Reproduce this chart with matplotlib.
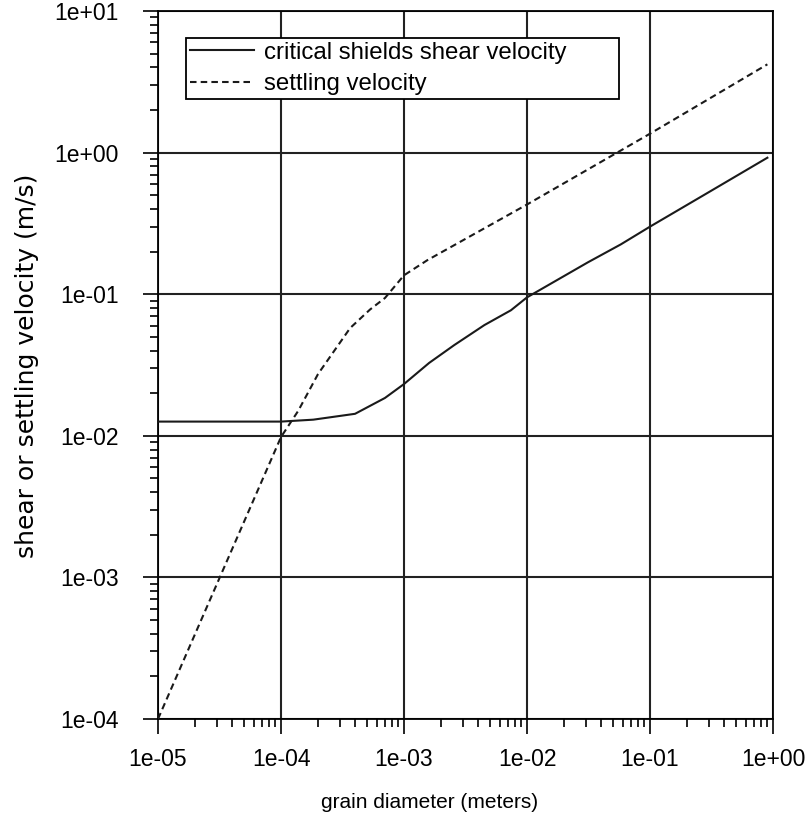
import matplotlib
matplotlib.use("Agg")
import matplotlib.pyplot as plt
from matplotlib.ticker import LogLocator, FuncFormatter, NullFormatter

# grain diameter (m) and critical Shields shear velocity (m/s)
diam_shields = [1e-5, 1e-4, 1.83e-4, 4.0e-4, 7.0e-4, 1e-3, 1.6e-3, 2.56e-3,
                4.5e-3, 7.4e-3, 1e-2, 0.0313, 0.058, 0.1, 0.3, 0.9]
shields_vel = [0.0126, 0.0126, 0.0130, 0.0143, 0.0185, 0.0232, 0.0327, 0.0437,
               0.0605, 0.077, 0.095, 0.168, 0.225, 0.30, 0.525, 0.92]

# grain diameter (m) and settling velocity (m/s)
diam_settle = [1e-5, 1e-4, 1.38e-4, 2.0e-4, 3.65e-4, 5.3e-4, 7.0e-4, 1e-3,
               1.55e-3, 1e-2, 0.1, 0.9]
settle_vel = [1e-4, 0.0098, 0.015, 0.0273, 0.0577, 0.078, 0.094, 0.136,
              0.174, 0.43, 1.36, 4.2]

series_labels = ["critical shields shear velocity", "settling velocity"]
x_label = "grain diameter (meters)"
y_label = "shear or settling velocity (m/s)"

plt.rcParams["lines.scale_dashes"] = False
plt.rcParams["font.family"] = ["Liberation Sans", "DejaVu Sans"]

fig = plt.figure(figsize=(8.05, 8.26), dpi=100)
ax = fig.add_axes([158 / 805, 1 - 719 / 826, 615 / 805, 708 / 826])

ink = "#1a1a1a"
ax.plot(diam_shields, shields_vel, color=ink, lw=1.5, ls="-",
        label=series_labels[0], zorder=3)
ax.plot(diam_settle, settle_vel, color=ink, lw=1.5, ls=(0, (4.7, 3.0)),
        label=series_labels[1], zorder=3)

ax.set_xscale("log")
ax.set_yscale("log")
ax.set_xlim(1e-5, 1e0)
ax.set_ylim(1e-4, 1e1)

ax.xaxis.set_major_locator(LogLocator(base=10, numticks=10))
ax.yaxis.set_major_locator(LogLocator(base=10, numticks=10))
ax.xaxis.set_minor_locator(LogLocator(base=10, subs=range(2, 10), numticks=100))
ax.yaxis.set_minor_locator(LogLocator(base=10, subs=range(2, 10), numticks=100))
fmt = FuncFormatter(lambda v, p: f"{v:.0e}")
ax.xaxis.set_major_formatter(fmt)
ax.yaxis.set_major_formatter(fmt)
ax.xaxis.set_minor_formatter(NullFormatter())
ax.yaxis.set_minor_formatter(NullFormatter())

ax.tick_params(axis="both", which="major", direction="out", length=11,
               width=1.2, color="black", labelsize=16.5)
ax.tick_params(axis="both", which="minor", direction="out", length=6,
               width=1.2, color="black")
ax.tick_params(axis="x", which="major", pad=10)
ax.tick_params(axis="y", which="major", pad=17)
ax.tick_params(top=False, right=False, which="both")

ax.grid(True, which="major", color="#222222", lw=1.5)
ax.set_axisbelow(True)
for s in ax.spines.values():
    s.set_color("black")
    s.set_linewidth(1.3)

leg = ax.legend(loc="upper left", bbox_to_anchor=(0.0455, 0.962, 0.704, 0.0),
                mode="expand", borderaxespad=0, fontsize=17.3, frameon=True,
                fancybox=False, framealpha=1, edgecolor="black",
                handlelength=2.7, handletextpad=0.38, borderpad=0.15,
                labelspacing=0.4)
leg.get_frame().set_linewidth(1.3)

fig.text(430 / 805, 1 - 803 / 826, x_label, ha="center", va="center",
         fontsize=15)
fig.text(27 / 805, 1 - 366 / 826, y_label, ha="center", va="center",
         rotation=90, fontsize=18, family="DejaVu Sans")

fig.savefig("out.png", dpi=100)
